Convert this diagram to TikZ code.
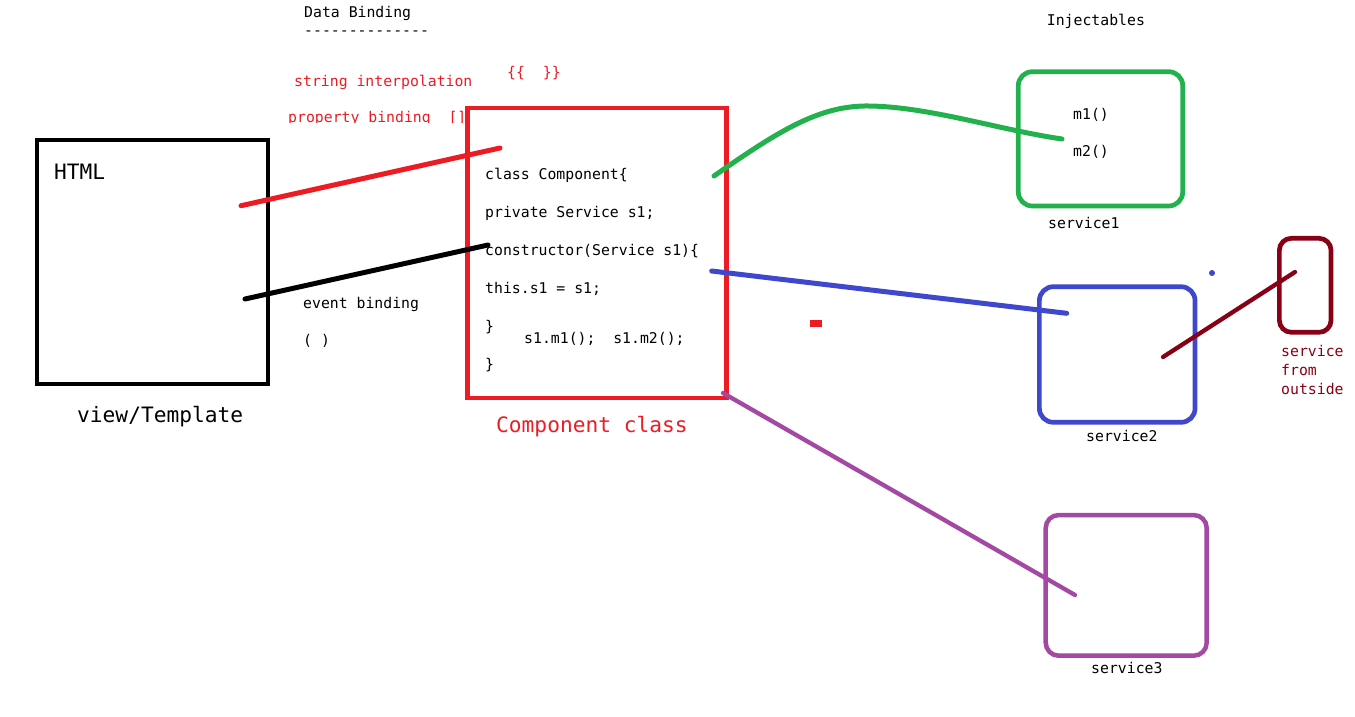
\documentclass[tikz,border=0pt]{standalone}
\usepackage{fontspec}
\setmonofont{DejaVu Sans Mono}
\definecolor{pred}{HTML}{ED1C24}
\definecolor{pgreen}{HTML}{22B14C}
\definecolor{pblue}{HTML}{3F48CC}
\definecolor{ppurple}{HTML}{A349A4}
\definecolor{pdark}{HTML}{880015}
\tikzset{
  txt/.style={anchor=base west, inner sep=0pt, font=\ttfamily\fontsize{14.8}{16}\selectfont},
  bigtxt/.style={anchor=base west, inner sep=0pt, font=\ttfamily\fontsize{21.2}{24}\selectfont},
  boxsq/.style={draw, rectangle, inner sep=0pt, line width=4.3pt},
  boxrd/.style={draw, rectangle, inner sep=0pt, line width=4.7pt, rounded corners=14pt},
  link/.style={line width=5pt, line cap=round},
}
\begin{document}
\begin{tikzpicture}[x=1pt, y=-1pt]
\useasboundingbox[fill=white] (0,0) rectangle (1355,716);

% headings
\node[txt] (db) at (304,17) {Data Binding};
\node[txt] (dbline) at (304,35) {-{}-{}-{}-{}-{}-{}-{}-{}-{}-{}-{}-{}-{}-};
\node[txt, text=pred] (si) at (294,86) {string interpolation};
\node[txt, text=pred] (sib) at (507,77) {\{\{~~\}\}};
\begin{scope}
  \clip (280,95) rectangle (470,122);
  \node[txt, text=pred] (pb) at (288,122.3) {property binding~~[]};
\end{scope}
\node[txt] (inj) at (1046.7,25) {Injectables};

% HTML box
\node[boxsq, minimum width=231.6pt, minimum height=244.6pt] (html) at (152.5,262) {};
\node[bigtxt] (htmll) at (54,179) {HTML};
\node[bigtxt] (vt) at (77,422) {view/Template};

% Component box
\node[boxsq, draw=pred, minimum width=259pt, minimum height=290pt] (comp) at (597,253) {};
\node[txt] (c1) at (485,179.3) {class Component\{};
\node[txt] (c2) at (485,217) {private Service s1;};
\node[txt] (c3) at (485,255) {constructor(Service s1)\{};
\node[txt] (c4) at (485,293) {this.s1 = s1;};
\node[txt] (c5) at (485,331) {\}};
\node[txt] (c6) at (524,343) {s1.m1();~~s1.m2();};
\node[txt] (c7) at (485,369) {\}};
\node[bigtxt, text=pred] (cc) at (496,432.5) {Component class};

\node[txt] (eb) at (303,308) {event binding};
\node[txt] (ebp) at (303,345) {( )};

% services
\node[boxrd, draw=pgreen, minimum width=164.4pt, minimum height=134.3pt] (s1) at (1100.5,138.85) {};
\node[txt] (m1) at (1073,119.3) {m1()};
\node[txt] (m2) at (1073,156.7) {m2()};
\node[txt] (s1l) at (1048,228.3) {service1};

\node[boxrd, draw=pblue, minimum width=155.7pt, minimum height=135.6pt] (s2) at (1117.2,354.5) {};
\node[txt] (s2l) at (1086,441.7) {service2};

\node[boxrd, draw=ppurple, line width=4.5pt, rounded corners=13pt, minimum width=161pt, minimum height=140.7pt] (s3) at (1126.2,585.35) {};
\node[txt] (s3l) at (1091,673.3) {service3};

\node[boxrd, draw=pdark, rounded corners=12pt, minimum width=51.7pt, minimum height=94pt] (so) at (1305.2,285.3) {};
\node[txt, text=pdark] (so1) at (1281,356) {service};
\node[txt, text=pdark] (so2) at (1281,375) {from};
\node[txt, text=pdark] (so3) at (1281,394) {outside};

% connector end points
\coordinate (r1) at (241,205.7);
\coordinate (r2) at (500,148);
\coordinate (k1) at (245,299);
\coordinate (k2) at (488,245);
\coordinate (g1) at (714,176);
\coordinate (g2) at (1062,139);
\coordinate (b1) at (711.7,271);
\coordinate (b2) at (1066.7,313.3);
\coordinate (p1) at (723,393);
\coordinate (p2) at (1075,595);
\coordinate (d1) at (1163,357);
\coordinate (d2) at (1295,272);

% connectors
\draw[link, draw=pred] (r1) -- (r2);
\draw[link, draw=black] (k1) -- (k2);
\draw[link, draw=pgreen] (g1) .. controls (780,130) and (820,105) .. (870,106)
                              .. controls (930,107) and (1000,130) .. (g2);
\draw[link, draw=pblue] (b1) -- (b2);
\draw[link, draw=ppurple, line width=4.3pt] (p1) -- (p2);
\draw[link, draw=pdark, line width=4.3pt] (d1) -- (d2);

% stray marks
\fill[pred] (810,320) rectangle (822,326.7);
\fill[pblue] (1212,273) circle (3pt);
\end{tikzpicture}
\end{document}
